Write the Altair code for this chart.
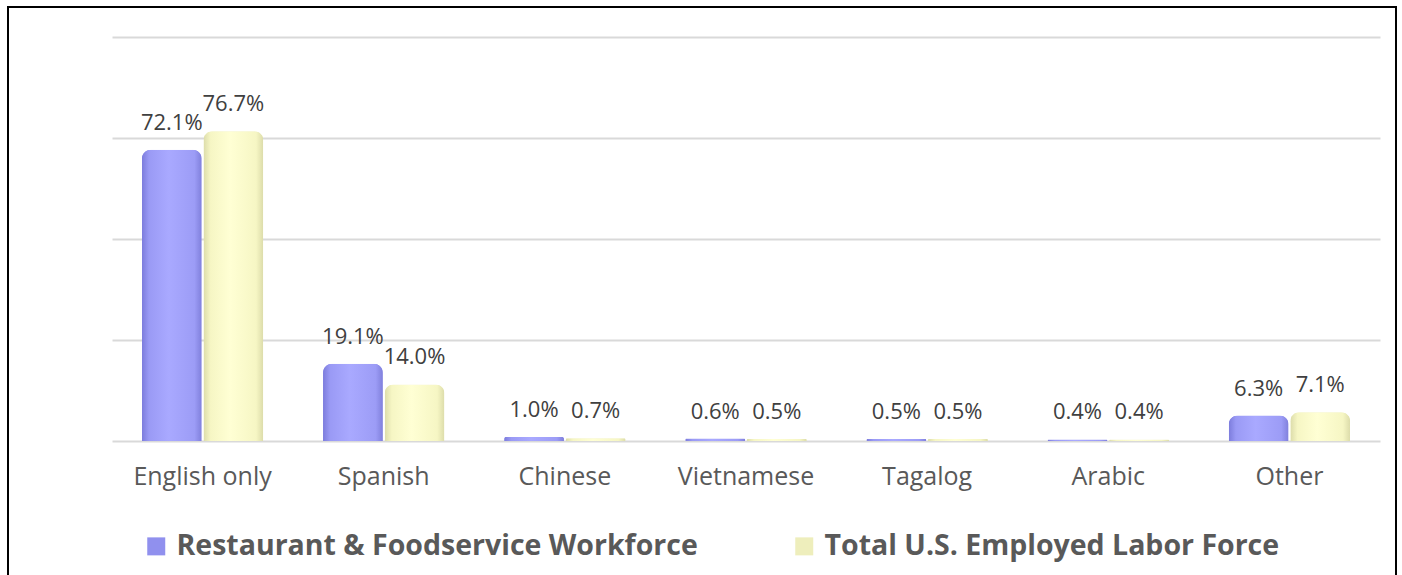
import altair as alt
import pandas as pd

categories = ["English only", "Spanish", "Chinese", "Vietnamese", "Tagalog", "Arabic", "Other"]
series = ["Restaurant & Foodservice Workforce", "Total U.S. Employed Labor Force"]
restaurant = [72.1, 19.1, 1.0, 0.6, 0.5, 0.4, 6.3]
total_us = [76.7, 14.0, 0.7, 0.5, 0.5, 0.4, 7.1]
colors = ["#9090ee", "#eeeebc"]

rows = []
for c, a, b in zip(categories, restaurant, total_us):
    rows.append({"cat": c, "series": series[0], "value": a, "label": f"{a:.1f}%"})
    rows.append({"cat": c, "series": series[1], "value": b, "label": f"{b:.1f}%"})
df = pd.DataFrame(rows)

FONT = "Open Sans"
x = alt.X("cat:N", sort=categories, title=None,
          scale=alt.Scale(paddingInner=0.33, paddingOuter=0.165),
          axis=alt.Axis(labelAngle=0, labelFontSize=25, labelColor="#595959",
                        labelPadding=23, ticks=False, domain=False, labelFont=FONT))
xo = alt.XOffset("series:N", sort=series, scale=alt.Scale(domain=series, paddingInner=0.03))
y = alt.Y("value:Q", title=None,
          scale=alt.Scale(domain=[0, 100]),
          axis=alt.Axis(values=[0, 25, 50, 75, 100], labels=False, ticks=False,
                        domain=False, grid=True, gridColor="#d9d9d9", gridWidth=2))

bars = alt.Chart(df).mark_bar(cornerRadiusTopLeft=9, cornerRadiusTopRight=9).encode(
    x=x, xOffset=xo, y=y,
    color=alt.Color("series:N", sort=series,
                    scale=alt.Scale(domain=series, range=colors),
                    legend=alt.Legend(title=None, orient="none", legendX=30, legendY=495,
                                      direction="horizontal", symbolType="square",
                                      symbolSize=324, symbolStrokeWidth=0,
                                      labelFontSize=28.5, labelFontWeight="bold",
                                      labelColor="#595959", labelFont=FONT,
                                      labelOffset=6, columnPadding=92, labelLimit=800)),
)

def grad(stops):
    return alt.Gradient(gradient="linear", x1=0, x2=1, y1=0, y2=0,
                        stops=[alt.GradientStop(offset=o, color=c) for o, c in stops])

purple_grad = grad([(0, "#7c7cdc"), (0.12, "#9a9af5"), (0.45, "#a9a9ff"),
                    (0.88, "#9c9cf6"), (1, "#8080dc")])
yellow_grad = grad([(0, "#dcdcaa"), (0.12, "#f6f6c4"), (0.45, "#ffffd4"),
                    (0.88, "#f6f6c4"), (1, "#dcdcaa")])

g1 = alt.Chart(df).transform_filter(alt.datum.series == series[0]).mark_bar(
    cornerRadiusTopLeft=9, cornerRadiusTopRight=9, color=purple_grad).encode(
    x=x, xOffset=xo, y=y)
g2 = alt.Chart(df).transform_filter(alt.datum.series == series[1]).mark_bar(
    cornerRadiusTopLeft=9, cornerRadiusTopRight=9, color=yellow_grad).encode(
    x=x, xOffset=xo, y=y)

labels = alt.Chart(df).mark_text(baseline="bottom", dy=-15, fontSize=22,
                                 color="#404040", font=FONT).encode(
    x=x, xOffset=xo, y=y, text="label:N"
)

border = alt.Chart(df).mark_rect(filled=False, stroke="black", strokeWidth=2).encode(
    x=alt.value(-104), x2=alt.value(1284), y=alt.value(-30), y2=alt.value(545)
)

chart = alt.layer(bars, g1, g2, labels, border).properties(
    width=1268, height=404,
    autosize="none",
    padding={"left": 112, "top": 37, "right": 22, "bottom": 134},
).configure(font=FONT).configure_view(stroke=None)

chart.save("out.html", embed_options={"renderer": "svg", "actions": False})
